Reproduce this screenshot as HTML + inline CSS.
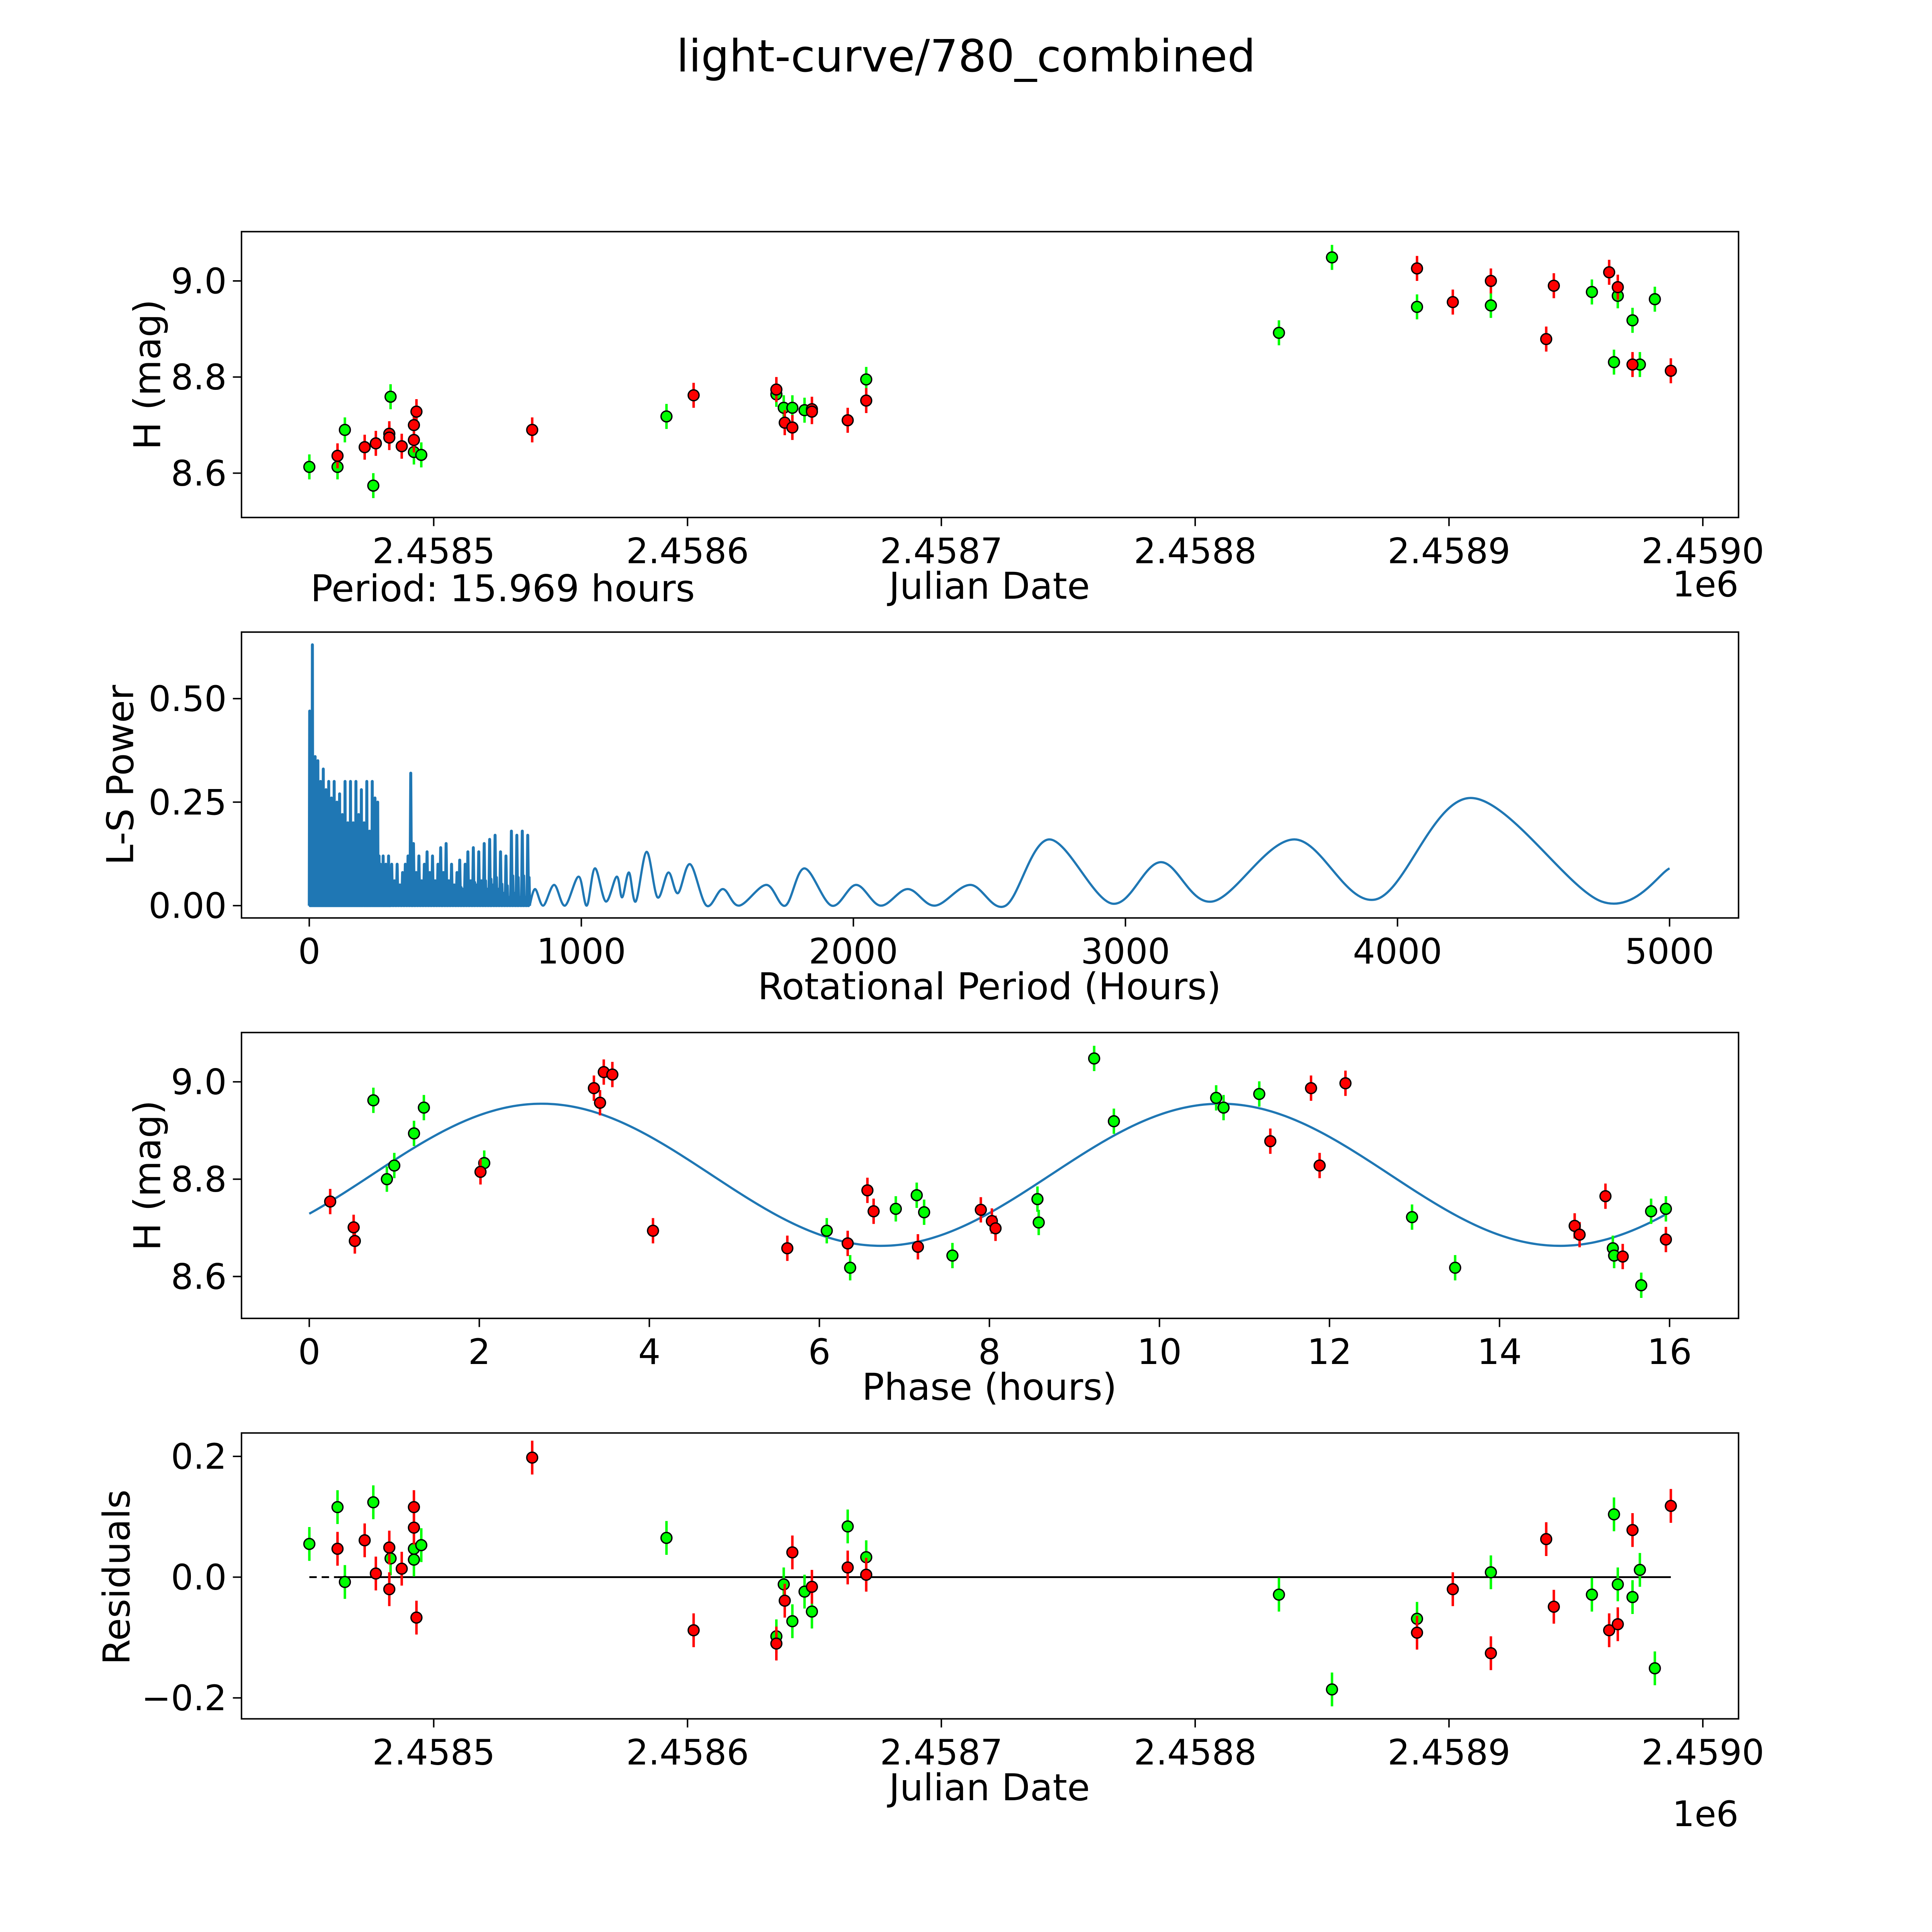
<!DOCTYPE html>
<html><head><meta charset="utf-8"><style>
html,body{margin:0;padding:0;background:#fff;overflow:hidden}
svg{display:block;position:absolute;left:0;top:0;width:100vw;height:100vh}
text{font-family:"DejaVu Sans","Liberation Sans",sans-serif;fill:#000}
</style></head><body>
<svg id="fig" viewBox="0 0 1568 1568" preserveAspectRatio="none" xmlns="http://www.w3.org/2000/svg">
<rect width="1568" height="1568" fill="#fff"/>
<text x="784" y="58" font-size="36" text-anchor="middle">light-curve/780_combined</text>
<g id="p1"></g>
<g id="p2"></g>
<g id="p3"></g>
<g id="p4"></g>
</svg>
<script>
// ---- Panel 1 data (JD - 2458500 days, H mag)
const jdGreen=[-49.0,-37.9,-35.0,-23.8,-17.0,-7.8,-4.9,91.7,135.0,137.9,141.3,146.1,170.4,333.0,353.9,387.4,416.5,456.3,465.0,466.5,472.3,475.2,481.1];
const magGreen=[8.613,8.613,8.690,8.574,8.759,8.644,8.638,8.718,8.764,8.736,8.736,8.731,8.795,8.892,9.049,8.946,8.949,8.977,8.831,8.969,8.918,8.826,8.962];
const jdRed=[-37.9,-27.2,-22.8,-17.5,-17.5,-12.6,-7.8,-7.8,-6.8,38.8,102.4,135.0,138.3,141.3,149.0,149.0,163.1,170.4,387.4,401.5,416.5,438.3,441.3,463.1,466.5,472.3,487.4];
const magRed=[8.636,8.654,8.662,8.682,8.674,8.656,8.700,8.669,8.728,8.690,8.762,8.774,8.705,8.695,8.733,8.728,8.710,8.751,9.026,8.956,9.000,8.879,8.990,9.018,8.987,8.826,8.813];
const magErr=0.026;
const jdTicks=[2.4585,2.4586,2.4587,2.4588,2.4589,2.4590];
const magTicks=[8.6,8.8,9.0];
// ---- Panel 2 periodogram
const spikePeriods=[0,5,10,15,20,25,30,35,40,45,50,55,60,65,70,75,80,85,90,95,100,105,110,115,120,125,130,135,140,145,150,155,160,165,170,175,180,185,190,195,200,205,210,215,220,225,230,235,240,245,250,255,260,265,270,275,280,285,290,295,300,310,320,330,340,350,360,370,380,390,400,410,420,430,440,450,460,470,480,490,500,510,520,530,540,550,560,570,580,590,600,610,620,630,640,650,660,670,680,690,700,710,720,730,740,750,760,770,780,790,800];
const spikePower=[0.47,0.35,0.63,0.3,0.36,0.33,0.35,0.28,0.3,0.26,0.33,0.25,0.28,0.22,0.3,0.2,0.26,0.18,0.3,0.22,0.25,0.15,0.27,0.2,0.22,0.16,0.3,0.18,0.2,0.12,0.3,0.15,0.2,0.14,0.3,0.12,0.22,0.16,0.28,0.1,0.2,0.12,0.3,0.14,0.18,0.1,0.3,0.2,0.26,0.15,0.25,0.12,0.1,0.08,0.12,0.06,0.1,0.07,0.12,0.05,0.1,0.06,0.1,0.05,0.08,0.1,0.12,0.32,0.15,0.08,0.12,0.06,0.1,0.13,0.08,0.12,0.06,0.1,0.14,0.08,0.15,0.06,0.1,0.05,0.08,0.11,0.04,0.1,0.13,0.06,0.14,0.05,0.13,0.06,0.15,0.04,0.16,0.05,0.17,0.04,0.13,0.03,0.12,0.02,0.18,0.03,0.17,0.02,0.18,0.02,0.17];
const smoothPeriods=[810,830,860,900,940,990,1020,1050,1090,1130,1150,1175,1200,1240,1280,1320,1355,1400,1460,1520,1580,1680,1750,1820,1920,2010,2100,2200,2300,2430,2560,2720,2950,3130,3320,3620,3920,4270,4750,5000];
const smoothPower=[0,0.04,0,0.05,0,0.07,0,0.09,0.01,0.07,0.02,0.08,0.01,0.13,0.02,0.08,0.03,0.1,0,0.04,0,0.05,0,0.09,0,0.05,0,0.04,0,0.05,0,0.16,0.005,0.105,0.01,0.16,0.015,0.26,0.01,0.09];
const periodTicks=[0,1000,2000,3000,4000,5000];
const powerTicks=[0,0.25,0.5];
// ---- Panel 3 phase (hours, mag)
const phGreen=[0.754,0.913,1.000,1.232,1.348,2.058,6.087,6.362,6.899,7.145,7.232,7.565,8.565,8.580,9.232,9.464,10.667,10.754,11.174,12.971,13.478,15.333,15.348,15.667,15.783,15.957];
const phMagGreen=[8.962,8.800,8.828,8.894,8.947,8.833,8.694,8.618,8.739,8.767,8.732,8.643,8.759,8.711,9.048,8.919,8.967,8.947,8.975,8.722,8.618,8.658,8.643,8.582,8.734,8.739];
const phRed=[0.246,0.522,0.536,2.014,3.348,3.420,3.464,3.565,4.043,5.623,6.333,6.565,6.638,7.159,7.899,8.029,8.072,11.304,11.783,11.884,12.188,14.884,14.942,15.246,15.449,15.957];
const phMagRed=[8.754,8.701,8.673,8.815,8.987,8.957,9.020,9.015,8.694,8.658,8.668,8.777,8.734,8.661,8.737,8.714,8.699,8.878,8.987,8.828,8.997,8.704,8.686,8.765,8.641,8.676];
const fitParams=[8.809,0.146,7.985,-0.58]; // mean, amplitude, half-period, phase offset
const phaseTicks=[0,2,4,6,8,10,12,14,16];
// ---- Panel 4 residuals
const resJdGreen=[-49.0,-37.9,-35.0,-23.8,-17.0,-7.8,-7.8,-4.9,91.7,135.0,137.9,141.3,146.1,149.0,163.1,170.4,333.0,353.9,387.4,416.5,456.3,465.0,466.5,472.3,475.2,481.1];
const resGreen=[0.055,0.116,-0.008,0.124,0.031,0.029,0.047,0.053,0.065,-0.098,-0.012,-0.073,-0.024,-0.057,0.084,0.033,-0.029,-0.186,-0.069,0.008,-0.029,0.104,-0.012,-0.033,0.012,-0.151];
const resJdRed=[-37.9,-27.2,-22.8,-17.5,-17.5,-12.6,-7.8,-7.8,-6.8,38.8,102.4,135.0,138.3,141.3,149.0,163.1,170.4,387.4,401.5,416.5,438.3,441.3,463.1,466.5,472.3,487.4];
const resRed=[0.047,0.061,0.006,0.049,-0.020,0.014,0.082,0.116,-0.067,0.198,-0.088,-0.110,-0.039,0.041,-0.016,0.016,0.004,-0.092,-0.020,-0.126,0.063,-0.049,-0.088,-0.078,0.078,0.118];
const resTicks=[-0.2,0,0.2];

const NS="http://www.w3.org/2000/svg";
function mk(parent,tag,attrs){const e=document.createElementNS(NS,tag);for(const k in attrs)e.setAttribute(k,attrs[k]);parent.appendChild(e);return e;}
const L=196,R=1411;
const TF=28.5, LF=30;
function lin(d0,d1,r0,r1){return v=>r0+(v-d0)*(r1-r0)/(d1-d0);}
function frame(g,top,bot){
  const r=mk(g,'rect',{x:L,y:top,width:R-L,height:bot-top,fill:'none',stroke:'#000','stroke-width':1.2});
  
  
}
function xticks(g,ticks,sx,bot,fmt){
  ticks.forEach(t=>{const x=sx(t);
    mk(g,'line',{x1:x,x2:x,y1:bot,y2:bot+7,stroke:'#000','stroke-width':1.2});
    const tx=mk(g,'text',{x:x,y:bot+37,'font-size':TF,'text-anchor':'middle'});
    tx.textContent=fmt(t);
    
    
  });
}
function yticks(g,ticks,sy,fmt){
  ticks.forEach(t=>{const y=sy(t);
    mk(g,'line',{x1:L-7,x2:L,y1:y,y2:y,stroke:'#000','stroke-width':1.2});
    const tx=mk(g,'text',{x:L-12,y:y+10,'font-size':TF,'text-anchor':'end'});
    tx.textContent=fmt(t);
    
    
  });
}
function label(g,txt,x,y,rot,name){
  const t=mk(g,'text',{x:x,y:y,'font-size':LF,'text-anchor':'middle'});
  if(rot)t.setAttribute('transform','rotate(-90 '+x+' '+y+')');
  t.textContent=txt;
  
  
}
function points(g,xs,ys,sx,sy,err,color,name){
  xs.forEach((v,i)=>{const x=sx(v);
    const b=mk(g,'line',{x1:x,x2:x,y1:sy(ys[i]-err),y2:sy(ys[i]+err),stroke:color,'stroke-width':2});
    
    
  });
  xs.forEach((v,i)=>{
    const c=mk(g,'circle',{cx:sx(v),cy:sy(ys[i]),r:4.4,fill:color,stroke:'#000','stroke-width':1.1});
    
    
  });
}
const fmtNum=t=>t.toFixed(1);
const fmtJD=t=>t.toFixed(4);
const jdToDays=t=>(t-2.4585)*1e6;
// Panel 1
{const g=document.getElementById('p1');const top=188,bot=420;
 const sx=lin(0,100,352,558),sy=lin(9.0,8.8,228,306);
 frame(g,top,bot);
 xticks(g,jdTicks,t=>sx(jdToDays(t)),bot,fmtJD);
 yticks(g,magTicks,sy,fmtNum);
 points(g,jdGreen,magGreen,sx,sy,magErr,'#00ff00','green-filter');
 points(g,jdRed,magRed,sx,sy,magErr,'#ff0000','red-filter');
 label(g,'Julian Date',803,486,false,'x-axis-title');
 label(g,'H (mag)',130,304,true,'y-axis-title');
 const e=mk(g,'text',{x:1411,y:484,'font-size':TF,'text-anchor':'end'});e.textContent='1e6';
 
 
 const p=mk(g,'text',{x:252,y:488,'font-size':LF});p.textContent='Period: 15.969 hours';
 
 
}
// Panel 2
{const g=document.getElementById('p2');const top=513,bot=745;
 const sx=lin(0,5000,251,1355),sy=lin(0,0.5,735,567);
 frame(g,top,bot);
 xticks(g,periodTicks,sx,bot,t=>String(t));
 yticks(g,powerTicks,sy,t=>t.toFixed(2));
 let d='M'+sx(0)+','+sy(0);
 spikePeriods.forEach((p,i)=>{const st=(i<spikePeriods.length-1?spikePeriods[i+1]-p:10);
   d+=' L'+sx(p+st*0.3)+','+sy(spikePower[i])+' L'+sx(p+st*0.6)+','+sy(0)+' L'+sx(p+st*0.8)+','+sy(spikePower[i]*0.4)+' L'+sx(p+st)+','+sy(0);});
 const dense=mk(g,'path',{d:d,fill:'none',stroke:'#1f77b4','stroke-width':2.4,'stroke-linejoin':'round'});
 
 
 const P=smoothPeriods.map((p,i)=>[sx(p),sy(smoothPower[i])]);
 let d2='M'+P[0][0]+','+P[0][1];
 for(let i=0;i<P.length-1;i++){const p0=P[Math.max(0,i-1)],p1=P[i],p2=P[i+1],p3=P[Math.min(P.length-1,i+2)];
   d2+=' C'+(p1[0]+(p2[0]-p0[0])/6)+','+(p1[1]+(p2[1]-p0[1])/6)+' '+(p2[0]-(p3[0]-p1[0])/6)+','+(p2[1]-(p3[1]-p1[1])/6)+' '+p2[0]+','+p2[1];}
 const path=mk(g,'path',{d:d2,fill:'none',stroke:'#1f77b4','stroke-width':1.8,'stroke-linejoin':'round'});
 
 
 label(g,'Rotational Period (Hours)',803,811,false,'x-axis-title');
 label(g,'L-S Power',108,629,true,'y-axis-title');
}
// Panel 3
{const g=document.getElementById('p3');const top=838,bot=1070;
 const sx=lin(0,16,251,1355),sy=lin(9.0,8.6,878,1036);
 frame(g,top,bot);
 xticks(g,phaseTicks,sx,bot,t=>String(t));
 yticks(g,magTicks,sy,fmtNum);
 let d='';for(let i=0;i<=400;i++){const t=16*i/400;const m=fitParams[0]+fitParams[1]*Math.sin(2*Math.PI*t/fitParams[2]+fitParams[3]);d+=(i?' L':'M')+sx(t)+','+sy(m);}
 const f=mk(g,'path',{d:d,fill:'none',stroke:'#1f77b4','stroke-width':1.8});
 
 
 points(g,phGreen,phMagGreen,sx,sy,magErr,'#00ff00','green-filter');
 points(g,phRed,phMagRed,sx,sy,magErr,'#ff0000','red-filter');
 label(g,'Phase (hours)',803,1136,false,'x-axis-title');
 label(g,'H (mag)',130,954,true,'y-axis-title');
}
// Panel 4
{const g=document.getElementById('p4');const top=1163,bot=1395;
 const sx=lin(0,100,352,558),sy=lin(0,0.2,1280,1182);
 frame(g,top,bot);
 xticks(g,jdTicks,t=>sx(jdToDays(t)),bot,fmtJD);
 yticks(g,resTicks,sy,t=>t===0?'0.0':(t<0?'\u2212'+Math.abs(t).toFixed(1):t.toFixed(1)));
 const z1=mk(g,'line',{x1:sx(-49),x2:sx(-38),y1:sy(0),y2:sy(0),stroke:'#000','stroke-width':1.5,'stroke-dasharray':'6,4'});
 
 
 const z2=mk(g,'line',{x1:sx(-38),x2:sx(487.4),y1:sy(0),y2:sy(0),stroke:'#000','stroke-width':1.5});
 
 
 points(g,resJdGreen,resGreen,sx,sy,0.028,'#00ff00','green-residual');
 points(g,resJdRed,resRed,sx,sy,0.028,'#ff0000','red-residual');
 label(g,'Julian Date',803,1461,false,'x-axis-title');
 label(g,'Residuals',105,1280,true,'y-axis-title');
 const e=mk(g,'text',{x:1411,y:1482,'font-size':TF,'text-anchor':'end'});e.textContent='1e6';
 
 
}
</script>
</body></html>
